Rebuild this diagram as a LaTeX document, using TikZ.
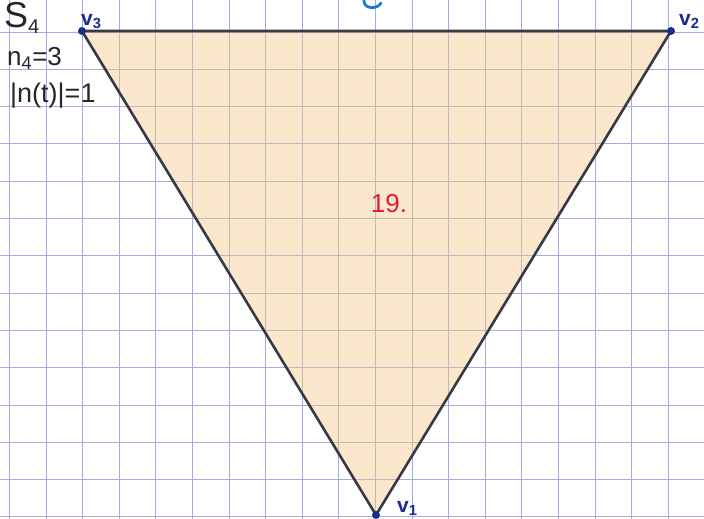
\documentclass[tikz,border=0pt]{standalone}
\usepackage{fontspec}
\setmainfont{Liberation Sans}
\begin{document}
\begin{tikzpicture}[x=1pt,y=-1pt,
  gridline/.style={draw=gridblue, line width=0.9pt},
  edge/.style={draw=edgegray, line width=2.6pt, line cap=round},
  vdot/.style={circle, fill=dotblue, inner sep=0pt, minimum size=8pt},
  vlabel/.style={text=dotblue, font=\fontsize{21}{21}\selectfont\bfseries, inner sep=0pt},
  note/.style={text=black!85, inner sep=0pt, anchor=west}]
\definecolor{gridblue}{RGB}{165,170,230}
\definecolor{edgegray}{RGB}{55,58,68}
\definecolor{dotblue}{RGB}{25,45,140}
\definecolor{fillorange}{RGB}{244,200,135}
\definecolor{numred}{RGB}{220,30,55}
\definecolor{arcblue}{RGB}{30,120,220}
\useasboundingbox (0,0) rectangle (704,519);
\fill[white] (0,0) rectangle (704,519);
% grid
\foreach \k in {0,...,19} {
  \draw[gridline] ({9.5+36.6*\k},0) -- ({9.5+36.6*\k},519);
}
\foreach \k in {-1,...,13} {
  \draw[gridline] (0,{32+37.3*\k}) -- (704,{32+37.3*\k});
}
% vertices
\coordinate (v3) at (82,31);
\coordinate (v2) at (671,31);
\coordinate (v1) at (376,515);
% filled triangle
\fill[fillorange, opacity=0.42] (v3) -- (v2) -- (v1) -- cycle;
\draw[edge] (v3) -- (v2) -- (v1) -- cycle;
\node[vdot] (d3) at (v3) {};
\node[vdot] (d2) at (v2) {};
\node[vdot] (d1) at (v1) {};
\node[vlabel, anchor=south west] (l3) at (81,29) {v\textsubscript{3}};
\node[vlabel, anchor=south west] (l2) at (679,29) {v\textsubscript{2}};
\node[vlabel, anchor=south west] (l1) at (397,516) {v\textsubscript{1}};
% notes
\node[note, font=\fontsize{36}{36}\selectfont] (s4) at (4,18) {S\textsubscript{\fontsize{20}{20}\selectfont 4}};
\node[note, font=\fontsize{26}{26}\selectfont] (n4) at (7,58) {n\textsubscript{4}=3};
\node[note, font=\fontsize{27}{27}\selectfont] (nt) at (10,96) {|n(t)|=1};
% number
\node[text=numred, font=\fontsize{26}{26}\selectfont, inner sep=0pt] (num) at (389,204) {19.};
% blue arc at top
\draw[arcblue, line width=2.8pt, line cap=round] (364,0) .. controls (363,9) and (377,10) .. (381,3);
\end{tikzpicture}
\end{document}
